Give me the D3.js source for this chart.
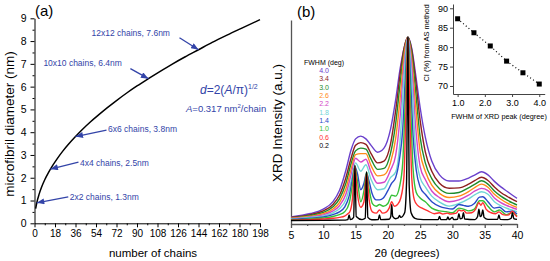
<!DOCTYPE html>
<html>
<head>
<meta charset="utf-8">
<script src="https://cdn.jsdelivr.net/npm/d3@7"></script>
<style>
  body { margin: 0; background: #fff; }
  svg { display: block; font-family: "Liberation Sans", Arial, sans-serif; }
</style>
</head>
<body>
<svg id="chart" width="550" height="261"></svg>
<script>
// ---------- panel (a): diameter vs number of chains ----------
const chainCounts = [1, 2, 4, 6, 9, 12, 16, 20, 25, 30, 36, 42, 49, 56, 64, 72, 81, 90, 100, 110, 121, 132, 144, 156, 169, 183, 198];
const diameters = [0.64, 0.90, 1.27, 1.56, 1.91, 2.20, 2.54, 2.84, 3.18, 3.48, 3.81, 4.12, 4.45, 4.75, 5.08, 5.39, 5.72, 6.03, 6.35, 6.66, 6.99, 7.30, 7.62, 7.94, 8.26, 8.59, 8.94];
const chainTicks = [0, 18, 36, 54, 72, 90, 108, 126, 144, 162, 180, 198];
const diameterTicks = [0, 1, 2, 3, 4, 5, 6, 7, 8, 9];

const calloutLabels = ['12x12 chains, 7.6nm', '10x10 chains, 6.4nm', '6x6 chains, 3.8nm', '4x4 chains, 2.5nm', '2x2 chains, 1.3nm'];
const calloutChains = [144, 100, 36, 14, 2];
const calloutDiameters = [7.62, 6.35, 3.81, 2.38, 0.90];

// ---------- panel (b): simulated XRD patterns ----------
const fwhmLabels = ['4.0', '3.4', '3.0', '2.6', '2.2', '1.8', '1.4', '1.0', '0.6', '0.2'];

const thetaWide = [5, 8, 10, 11.5, 12.5, 13.5, 14.3, 15, 15.8, 16.6, 17.4, 18.4, 19.4, 20.4, 21.2, 21.9, 22.5, 23.1, 23.7, 24.3, 25, 25.8, 26.8, 28, 29.5, 31, 32.5, 33.5, 34.5, 35.5, 36.5, 37.5, 38.5, 39.3, 40];
const int40 = [2.8, 4.6, 7.0, 11, 17, 28, 39, 45, 46.5, 45, 41.5, 37.8, 40, 50, 66, 83, 94, 100, 94, 80, 62, 46, 33, 25.5, 22.2, 22.2, 23.8, 25.5, 27.2, 25.5, 22, 19, 16.5, 14.5, 12.8];
const int34 = [2.5, 4.0, 6.0, 9.5, 14.5, 24, 34.5, 41.5, 43, 42, 37, 32, 33, 42, 60, 80, 94, 100, 93, 77, 55, 38, 27.5, 21, 18.3, 18.5, 20.5, 22.5, 24.2, 22.5, 19, 16, 13.8, 12.2, 11];
const int30 = [2.2, 3.5, 5.2, 8.2, 12.5, 21, 31.5, 38.5, 40, 39.5, 34, 28.5, 29, 37, 53, 75, 92, 100, 91, 71, 46, 32, 23.5, 18, 15.5, 16, 18.5, 20.5, 22.3, 20.5, 16.8, 14, 11.8, 10.3, 9.2];
const int26 = [2.0, 3.1, 4.5, 7.0, 10.5, 18, 28.5, 36.5, 37, 37, 30.5, 25, 25.5, 32, 45, 67, 90, 100, 88, 63, 38, 27.5, 20, 15.5, 13.3, 14, 16.5, 18.8, 20.5, 18.8, 15, 12.3, 10.2, 8.9, 7.9];
const int22 = [1.8, 2.8, 3.9, 6.0, 8.8, 15, 25.5, 34.5, 32.5, 34, 27, 21, 21.5, 28, 36, 57, 85, 100, 84, 52, 30, 23, 16.8, 13.2, 11, 12, 14.5, 16.8, 18.2, 17, 13, 10.5, 8.8, 7.7, 6.9];
const int18 = [1.6, 2.5, 3.3, 5.0, 7.2, 12, 22, 32, 27.5, 31, 23, 17.5, 18, 24, 27, 44, 79, 100, 77, 39, 24, 19, 14, 10.8, 8.6, 10, 12.5, 14.8, 16.4, 15, 11, 8.8, 7.3, 6.4, 5.6];

const thetaMid = [5, 8, 10, 11.5, 12.5, 13.3, 14.0, 14.5, 14.9, 15.3, 15.8, 16.3, 16.7, 17.1, 17.6, 18.2, 18.7, 19.3, 20.0, 20.6, 21.2, 21.8, 22.3, 22.7, 23.1, 23.5, 23.9, 24.4, 25, 25.8, 26.8, 28, 29, 30, 31, 31.7, 32.5, 33.4, 34.2, 34.7, 35.5, 36.5, 37.3, 38.3, 39.3, 40];
const int14 = [1.4, 2.1, 2.7, 4.0, 5.5, 8, 14, 23, 30, 26, 17.5, 21, 26.5, 22, 15, 12, 12, 13, 17, 21, 24, 34, 50, 78, 100, 78, 47, 28, 19, 15, 11, 8.5, 7.5, 7, 9.5, 9, 8.5, 10, 13.5, 13.7, 11, 7.5, 8, 5.5, 5.8, 4.3];
const int10 = [1.2, 1.7, 2.2, 3.0, 4.0, 5.5, 10, 20, 30, 22, 11, 17, 27, 18, 10, 8.5, 9.5, 8.5, 10, 14.5, 14, 19, 32, 66, 100, 66, 29, 16, 13, 11, 7.5, 6, 5.6, 5, 7.5, 7, 6, 7, 11.5, 11.5, 8.5, 5.5, 6.5, 4, 5, 3.2];

const thetaNarrow = [5, 8, 10, 11.5, 12.5, 13.3, 13.8, 14.1, 14.5, 14.9, 15.3, 15.8, 16.3, 16.7, 17.1, 17.6, 18.2, 18.7, 19.2, 19.8, 20.2, 20.6, 21.0, 21.5, 22.0, 22.5, 22.8, 23.1, 23.4, 23.7, 24.1, 24.6, 25.3, 26.2, 27.2, 28.0, 28.5, 29.2, 29.7, 30.1, 30.6, 31.0, 31.4, 31.7, 32.2, 33.0, 33.6, 34.1, 34.4, 34.7, 35.2, 36.0, 36.7, 37.2, 37.8, 38.6, 39.3, 39.8, 40];
const int06 = [1.0, 1.3, 1.6, 2.0, 2.5, 3.2, 4.5, 5.5, 12, 30, 15, 8, 11, 26.5, 12, 5.5, 4.8, 6.5, 4.8, 5.5, 7.5, 11, 8.5, 9.5, 13, 25, 60, 100, 60, 24, 12, 9, 7.5, 6, 4.5, 5, 4.3, 4.8, 4.3, 4.5, 4.8, 6.5, 6, 6.3, 4.8, 5, 7, 10.5, 9, 10.5, 7, 5, 4.5, 5.5, 4, 3.7, 5.8, 3.5, 2.8];

const thetaSharp = [5, 10, 13.0, 13.8, 14.0, 14.2, 14.7, 14.9, 15.1, 16.0, 16.5, 16.7, 16.9, 17.5, 18.5, 18.7, 18.9, 20.2, 20.45, 20.6, 20.75, 21.2, 21.6, 21.8, 22.0, 22.6, 22.9, 23.1, 23.3, 23.6, 24.2, 25, 26, 27.8, 28.0, 28.2, 29.1, 29.3, 29.5, 30.0, 30.2, 30.8, 31.0, 31.2, 31.5, 31.7, 31.9, 33.5, 33.9, 34.1, 34.3, 34.5, 34.7, 34.9, 35.5, 37.0, 37.2, 37.4, 38.6, 39.1, 39.3, 39.5, 40];
const int02 = [0.8, 0.9, 1.0, 1.3, 3.8, 1.3, 2.5, 30.8, 3.0, 1.3, 2.0, 27.2, 2.5, 1.2, 1.3, 3.8, 1.3, 1.5, 3.0, 9.5, 3.0, 1.8, 2.2, 3.5, 2.5, 5.0, 22, 100, 20, 5.0, 2.0, 1.4, 1.3, 1.3, 3.0, 1.3, 1.3, 2.8, 1.3, 2.5, 1.3, 1.5, 4.5, 1.8, 2.0, 5.0, 1.6, 1.3, 3.0, 6.9, 3.0, 3.5, 6.5, 2.5, 1.4, 1.4, 3.8, 1.4, 1.3, 2.0, 5.0, 1.8, 1.4];

const thetaTicks = [5, 10, 15, 20, 25, 30, 35, 40];

// ---------- inset: CI vs FWHM ----------
const insetFwhm = [1.0, 1.6, 2.2, 2.8, 3.4, 4.0];
const insetCI = [87.3, 83.7, 80.3, 76.4, 73.4, 70.5];
const insetXTicks = [1, 2, 3, 4];
const insetYTicks = [70, 75, 80, 85, 90];

// ---------- styles ----------
const curveColors = ['#6a40cc', '#8e1f1f', '#1f8c2c', '#ff8c1a', '#d447c8', '#70d6d6', '#2a4ac8', '#37c037', '#ff3030', '#000000'];
const blue = '#3344a8';

const svg = d3.select('#chart');

// ================= panel (a) =================
const xA = d3.scaleLinear().domain([0, 198]).range([34.5, 260]);
const yA = d3.scaleLinear().domain([0, 9]).range([223.3, 18.3]);

const gA = svg.append('g');

const axA = gA.append('g')
    .attr('transform', `translate(0,${yA(0)})`)
    .call(d3.axisBottom(xA).tickValues(chainTicks).tickSize(4).tickSizeOuter(0).tickPadding(3));
axA.selectAll('text').style('font-size', '10px');

gA.append('g')
    .attr('transform', `translate(0,${yA(0)})`)
    .call(d3.axisBottom(xA).tickValues(d3.range(9, 198, 18)).tickSize(2).tickFormat(''))
    .select('.domain').remove();

const ayA = gA.append('g')
    .attr('transform', `translate(${xA(0)},0)`)
    .call(d3.axisLeft(yA).tickValues(diameterTicks).tickSize(4).tickSizeOuter(0).tickPadding(4));
ayA.selectAll('text').style('font-size', '10.5px');

gA.append('g')
    .attr('transform', `translate(${xA(0)},0)`)
    .call(d3.axisLeft(yA).tickValues(d3.range(0.5, 9, 1)).tickSize(2).tickFormat(''))
    .select('.domain').remove();

gA.selectAll('.domain, .tick line').attr('stroke', '#000').attr('stroke-width', 1);

gA.append('text')
    .attr('x', 153).attr('y', 257)
    .attr('text-anchor', 'middle')
    .style('font-size', '11.5px')
    .text('number of chains');

gA.append('text')
    .attr('transform', 'translate(14,124) rotate(-90)')
    .attr('text-anchor', 'middle')
    .style('font-size', '13.5px')
    .text('microfibril diameter (nm)');

gA.append('text')
    .attr('x', 35).attr('y', 16)
    .style('font-size', '15px')
    .text('(a)');

gA.append('path')
    .datum(d3.zip(chainCounts, diameters))
    .attr('fill', 'none')
    .attr('stroke', '#000')
    .attr('stroke-width', 1.5)
    .attr('d', d3.line().x(d => xA(d[0])).y(d => yA(d[1])).curve(d3.curveMonotoneX));

// arrows and labels
svg.append('defs').append('marker')
    .attr('id', 'arrowBlue')
    .attr('viewBox', '0 0 10 8')
    .attr('refX', 10).attr('refY', 4)
    .attr('markerWidth', 8).attr('markerHeight', 6)
    .attr('markerUnits', 'userSpaceOnUse')
    .attr('orient', 'auto')
    .append('path')
    .attr('d', 'M0,0 L10,4 L0,8 z')
    .attr('fill', blue);

// arrow start / label offsets from the arrow tip, in px
const arrowStart = [[-19, -12], [-18, -10], [31, -6.5], [28, -7], [31.5, -6]];
const labelStart = [[-107, -14], [-105, -13], [32.5, -5], [29.5, -3.4], [33, -2.8]];

calloutLabels.forEach((label, i) => {
    const tx = xA(calloutChains[i]);
    const ty = yA(calloutDiameters[i]);
    gA.append('line')
        .attr('x1', tx + arrowStart[i][0]).attr('y1', ty + arrowStart[i][1])
        .attr('x2', tx).attr('y2', ty)
        .attr('stroke', blue)
        .attr('stroke-width', 1.3)
        .attr('marker-end', 'url(#arrowBlue)');
    gA.append('text')
        .attr('x', tx + labelStart[i][0]).attr('y', ty + labelStart[i][1])
        .attr('fill', blue)
        .style('font-size', '8.5px')
        .text(label);
});

// formula
const f1 = gA.append('text').attr('x', 200).attr('y', 94).attr('fill', blue).style('font-size', '12px');
f1.append('tspan').style('font-style', 'italic').text('d');
f1.append('tspan').text('=2(');
f1.append('tspan').style('font-style', 'italic').text('A');
f1.append('tspan').text('/π)');
f1.append('tspan').attr('dy', -5).style('font-size', '7px').text('1/2');

const f2 = gA.append('text').attr('x', 186).attr('y', 112).attr('fill', blue).style('font-size', '9.5px');
f2.append('tspan').style('font-style', 'italic').text('A');
f2.append('tspan').text('=0.317 nm');
f2.append('tspan').attr('dy', -4).style('font-size', '6px').text('2');
f2.append('tspan').attr('dy', 4).text('/chain');

// ================= panel (b) =================
const xB = d3.scaleLinear().domain([5, 40]).range([291, 517]);
const yB = d3.scaleLinear().domain([0, 100]).range([222, 37.3]);
const gB = svg.append('g');

const axB = gB.append('g')
    .attr('transform', 'translate(0,224)')
    .call(d3.axisBottom(xB).tickValues(thetaTicks).tickSize(4).tickSizeOuter(0).tickPadding(4));
axB.selectAll('text').style('font-size', '10.5px');

gB.append('g')
    .attr('transform', 'translate(0,224)')
    .call(d3.axisBottom(xB).tickValues(d3.range(7.5, 40, 5)).tickSize(2).tickFormat(''))
    .select('.domain').remove();

gB.append('g')
    .attr('transform', `translate(${xB(5)},0)`)
    .call(d3.axisLeft(d3.scaleLinear().domain([0, 1]).range([224, 20])).tickValues([]).tickSizeOuter(0));

gB.selectAll('.domain, .tick line').attr('stroke', '#555').attr('stroke-width', 1.3);

gB.append('text')
    .attr('x', 407).attr('y', 257)
    .attr('text-anchor', 'middle')
    .style('font-size', '11.5px')
    .text('2θ (degrees)');

gB.append('text')
    .attr('transform', 'translate(282,123) rotate(-90)')
    .attr('text-anchor', 'middle')
    .style('font-size', '13.5px')
    .text('XRD Intensity (a.u.)');

gB.append('text')
    .attr('x', 297).attr('y', 17)
    .style('font-size', '15px')
    .text('(b)');

const xrdSeries = [
    d3.zip(thetaWide, int40), d3.zip(thetaWide, int34), d3.zip(thetaWide, int30),
    d3.zip(thetaWide, int26), d3.zip(thetaWide, int22), d3.zip(thetaWide, int18),
    d3.zip(thetaMid, int14), d3.zip(thetaMid, int10),
    d3.zip(thetaNarrow, int06), d3.zip(thetaSharp, int02)
];

const xrdLine = d3.line()
    .x(d => xB(d[0]))
    .y(d => yB(d[1]))
    .curve(d3.curveMonotoneX);

gB.append('g')
    .selectAll('path')
    .data(xrdSeries)
    .enter()
    .append('path')
    .attr('fill', 'none')
    .attr('stroke', (d, i) => curveColors[i])
    .attr('stroke-width', 1.4)
    .attr('stroke-linejoin', 'round')
    .attr('d', xrdLine);

// legend
gB.append('text')
    .attr('x', 324).attr('y', 64.5)
    .attr('text-anchor', 'middle')
    .style('font-size', '7px')
    .text('FWHM (deg)');

gB.append('g')
    .selectAll('text')
    .data(fwhmLabels)
    .enter()
    .append('text')
    .attr('x', 324)
    .attr('y', (d, i) => 73 + i * 8.35)
    .attr('text-anchor', 'middle')
    .attr('fill', (d, i) => curveColors[i])
    .style('font-size', '7px')
    .text(d => d);

// ================= inset =================
const xI = d3.scaleLinear().domain([0.83, 4.2]).range([453, 544.7]);
const yI = d3.scaleLinear().domain([67.94, 91.1]).range([94, 4]);
const gI = svg.append('g');

const axI = gI.append('g')
    .attr('transform', `translate(0,${yI.range()[0]})`)
    .call(d3.axisBottom(xI).tickValues(insetXTicks).tickSize(3).tickSizeOuter(0).tickPadding(3));
axI.selectAll('text').style('font-size', '9px');

const ayI = gI.append('g')
    .attr('transform', `translate(${xI.range()[0]},0)`)
    .call(d3.axisLeft(yI).tickValues(insetYTicks).tickSize(3).tickSizeOuter(0).tickPadding(2));
ayI.selectAll('text').style('font-size', '9px');

gI.selectAll('.domain, .tick line').attr('stroke', '#444').attr('stroke-width', 1);

gI.append('path')
    .datum(d3.zip(insetFwhm, insetCI))
    .attr('fill', 'none')
    .attr('stroke', '#000')
    .attr('stroke-width', 1.2)
    .attr('stroke-dasharray', '1,2.6')
    .attr('d', d3.line().x(d => xI(d[0])).y(d => yI(d[1])));

gI.selectAll('rect')
    .data(d3.zip(insetFwhm, insetCI))
    .enter()
    .append('rect')
    .attr('x', d => xI(d[0]) - 2.5)
    .attr('y', d => yI(d[1]) - 2.5)
    .attr('width', 5)
    .attr('height', 5)
    .attr('fill', '#000');

gI.append('text')
    .attr('x', 499).attr('y', 119)
    .attr('text-anchor', 'middle')
    .style('font-size', '7.3px')
    .text('FWHM of XRD peak (degree)');

gI.append('text')
    .attr('transform', 'translate(429,43) rotate(-90)')
    .attr('text-anchor', 'middle')
    .style('font-size', '7.5px')
    .text('CI (%) from AS method');
</script>
</body>
</html>
